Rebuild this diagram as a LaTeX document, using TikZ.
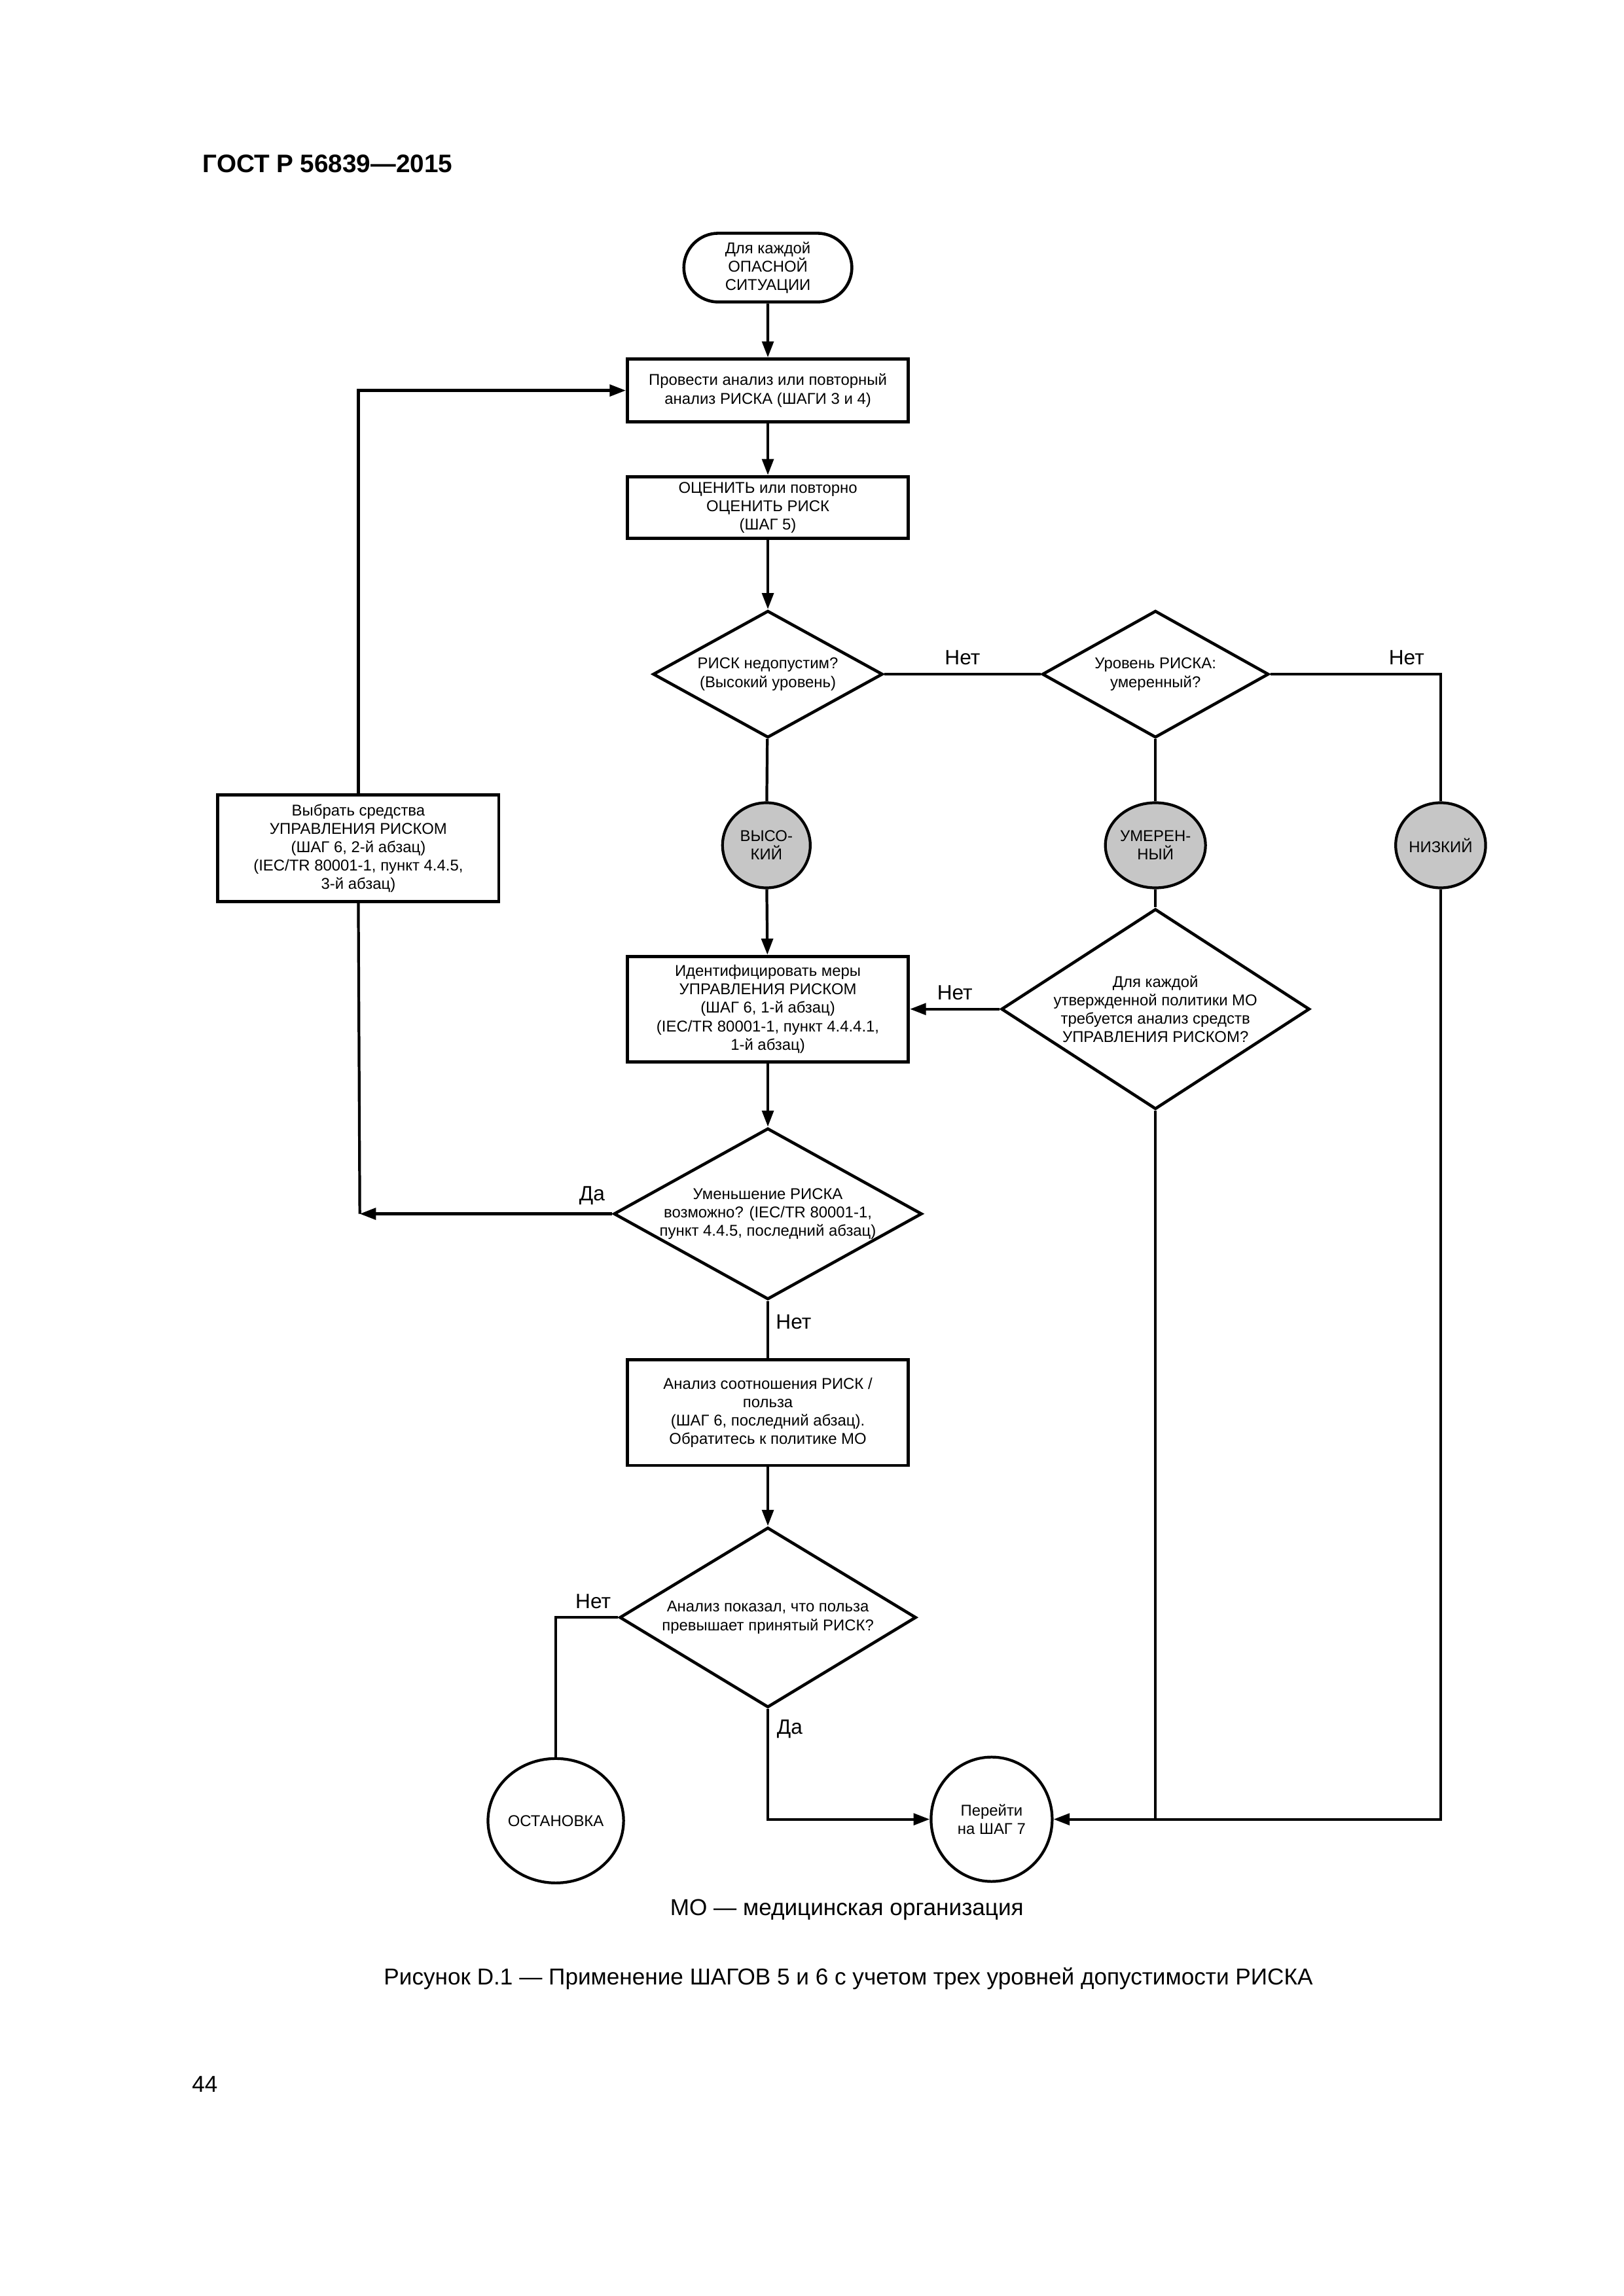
\documentclass[tikz,border=0pt]{standalone}
\usepackage{fontspec}
\setmainfont{Liberation Sans}
\usetikzlibrary{shapes.geometric,shapes.misc,arrows.meta,calc}
\tikzset{
  blk/.style={draw,line width=1.4pt,rectangle,align=center,inner sep=1pt,
    minimum width=4.29cm,font=\fontsize{6.8}{8}\selectfont},
  dec/.style={draw,line width=1.3pt,diamond,align=center,inner sep=0pt,
    font=\fontsize{6.8}{8}\selectfont},
  lvl/.style={draw,line width=1.2pt,ellipse,fill=gray!45,align=center,inner sep=0pt,
    minimum width=1.34cm,minimum height=1.3cm,font=\fontsize{6.8}{8}\selectfont},
  term/.style={draw,line width=1.2pt,ellipse,align=center,inner sep=0pt,
    minimum width=1.85cm,minimum height=1.9cm,font=\fontsize{6.8}{8}\selectfont},
  lnk/.style={line width=1.2pt},
  arr/.style={lnk,-{Triangle[length=7pt,width=5pt]}},
  tag/.style={font=\fontsize{9}{10}\selectfont}
}
\begin{document}
\begin{tikzpicture}[x=0.02234cm,y=-0.02234cm]
\useasboundingbox (0,0) rectangle (1110,1570);
\node[anchor=west,font=\bfseries\fontsize{11}{13}\selectfont] (title) at (133,112) {ГОСТ Р 56839—2015};
% main column
\node[draw,line width=1.3pt,rounded rectangle,align=center,minimum width=2.8cm,minimum height=1.05cm,
  font=\fontsize{6.8}{8}\selectfont] (start) at (525,183) {Для каждой\\ОПАСНОЙ\\СИТУАЦИИ};
\node[blk,minimum height=0.96cm] (analys) at (525,267) {Провести анализ или повторный\\анализ РИСКА (ШАГИ 3 и 4)};
\node[blk,minimum height=0.94cm] (eval) at (525,347) {ОЦЕНИТЬ или повторно\\ОЦЕНИТЬ РИСК\\(ШАГ 5)};
\node[dec,aspect=1.8,minimum width=3.51cm,minimum height=1.94cm] (high) at (525,461) {РИСК недопустим?\\(Высокий уровень)};
\node[dec,aspect=1.8,minimum width=3.46cm,minimum height=1.94cm] (mid) at (790,461) {Уровень РИСКА:\\умеренный?};
\node[lvl] (hi) at (524,578) {ВЫСО-\\КИЙ};
\node[lvl] (md) at (790,578) {УМЕРЕН-\\НЫЙ};
\node[lvl] (lo) at (985,578) {НИЗКИЙ};
\node[blk,minimum height=1.63cm] (choose) at (245,580) {Выбрать средства\\УПРАВЛЕНИЯ РИСКОМ\\(ШАГ 6, 2-й абзац)\\(IEC/TR 80001-1, пункт 4.4.5,\\3-й абзац)};
\node[blk,minimum height=1.61cm] (ident) at (525,690) {Идентифицировать меры\\УПРАВЛЕНИЯ РИСКОМ\\(ШАГ 6, 1-й абзац)\\(IEC/TR 80001-1, пункт 4.4.4.1,\\1-й абзац)};
\node[dec,aspect=1.54,minimum width=4.71cm,minimum height=3.06cm] (policy) at (790,690) {Для каждой\\утвержденной политики МО\\требуется анализ средств\\УПРАВЛЕНИЯ РИСКОМ?};
\node[dec,aspect=1.8,minimum width=4.53cm,minimum height=2.52cm] (reduce) at (525,830) {Уменьшение РИСКА\\возможно? (IEC/TR 80001-1,\\пункт 4.4.5, последний абзац)};
\node[blk,minimum height=1.61cm] (ratio) at (525,966) {Анализ соотношения РИСК /\\польза\\(ШАГ 6, последний абзац).\\Обратитесь к политике МО};
\node[dec,aspect=1.65,minimum width=4.53cm,minimum height=2.75cm] (benefit) at (525,1106) {Анализ показал, что польза\\превышает принятый РИСК?};
\node[term] (stop) at (380,1245) {ОСТАНОВКА};
\node[term] (next) at (678,1244) {Перейти\\на ШАГ 7};
\coordinate (c1) at (246,830);
\coordinate (c2) at (790,1244);
% connectors
\draw[arr] (start) -- (analys);
\draw[arr] (analys) -- (eval);
\draw[arr] (eval) -- (high);
\draw[lnk] (high) -- (hi);
\draw[arr] (hi) -- (ident);
\draw[arr] (ident) -- (reduce);
\draw[lnk] (reduce) -- (ratio);
\draw[arr] (ratio) -- (benefit);
\draw[lnk] (high) -- node[tag,above,pos=0.5]{Нет} (mid);
\draw[lnk] (mid) -- (md);
\draw[lnk] (md) -- (policy);
\draw[lnk] (mid.east) -| node[tag,above,pos=0.4]{Нет} (lo.north);
\draw[arr] (lo.south) |- (next.east);
\draw[lnk] (policy.south) -- (c2);
\draw[arr] (policy.west) -- node[tag,above]{Нет} (ident.east);
\draw[arr] (reduce.west) -- node[tag,above,pos=0.08]{Да} (c1);
\draw[lnk] (choose.south) -- (c1);
\draw[arr] (choose.north) |- (analys.west);
\draw[lnk] (benefit.west) -| node[tag,above,pos=0.2]{Нет} (stop.north);
\draw[arr] (benefit.south) |- node[tag,right,pos=0.06,yshift=-3pt]{Да} (next.west);
\path (reduce.south) node[tag,right,yshift=-9pt] (no4) {Нет};
% notes
\node[font=\fontsize{10}{12}\selectfont] (note) at (579,1306) {МО — медицинская организация};
\node[font=\fontsize{10}{12}\selectfont] (cap) at (580,1353) {Рисунок D.1 — Применение ШАГОВ 5 и 6 с учетом трех уровней допустимости РИСКА};
\node[font=\fontsize{10}{12}\selectfont] (page) at (140,1425) {44};
\end{tikzpicture}
\end{document}
